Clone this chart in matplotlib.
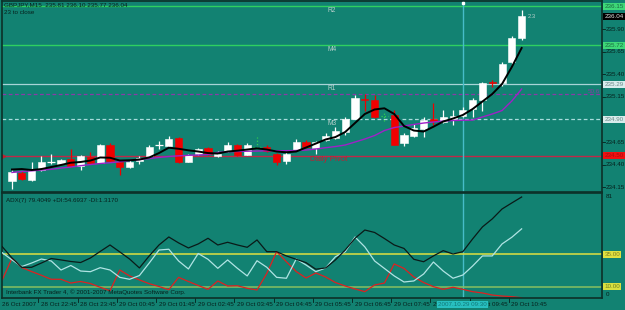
import numpy as np
import matplotlib
matplotlib.use('Agg')
import matplotlib.pyplot as plt
import matplotlib.transforms as mtrans

plt.rcParams['font.family'] = ['Liberation Sans', 'DejaVu Sans']

# GBPJPY M15 bars
opens = [234.22, 234.31, 234.23, 234.34, 234.43, 234.41, 234.46, 234.38, 234.48, 234.42,
         234.62, 234.43, 234.37, 234.44, 234.50, 234.62, 234.61, 234.69, 234.43, 234.52,
         234.58, 234.50, 234.55, 234.62, 234.51, 234.60, 234.60, 234.52, 234.44, 234.56,
         234.65, 234.58, 234.67, 234.69, 234.76, 234.91, 235.13, 235.11, 234.94, 234.95,
         234.64, 234.72, 234.79, 234.90, 234.87, 234.90, 234.94, 235.01, 235.11, 235.31,
         235.30, 235.53, 235.80]
highs = [234.34, 234.33, 234.43, 234.50, 234.52, 234.46, 234.57, 234.51, 234.54, 234.63,
         234.64, 234.44, 234.45, 234.49, 234.62, 234.66, 234.72, 234.71, 234.52, 234.58,
         234.59, 234.55, 234.65, 234.63, 234.64, 234.71, 234.62, 234.53, 234.54, 234.68,
         234.67, 234.66, 234.75, 234.82, 234.93, 235.17, 235.18, 235.17, 234.98, 235.00,
         234.75, 234.85, 234.93, 235.08, 235.00, 235.00, 235.04, 235.14, 235.31, 235.34,
         235.53, 235.82, 236.11]
lows = [234.13, 234.23, 234.22, 234.33, 234.41, 234.41, 234.37, 234.34, 234.41, 234.42,
        234.43, 234.29, 234.36, 234.41, 234.49, 234.57, 234.60, 234.42, 234.43, 234.51,
        234.51, 234.48, 234.54, 234.49, 234.51, 234.58, 234.54, 234.40, 234.41, 234.56,
        234.58, 234.52, 234.66, 234.68, 234.73, 234.90, 234.99, 234.92, 234.88, 234.62,
        234.61, 234.71, 234.70, 234.84, 234.86, 234.84, 234.93, 234.93, 234.99, 235.26,
        235.27, 235.51, 235.78]
closes = [234.32, 234.24, 234.34, 234.43, 234.43, 234.45, 234.38, 234.49, 234.42, 234.62,
          234.44, 234.37, 234.43, 234.47, 234.60, 234.62, 234.68, 234.43, 234.51, 234.57,
          234.52, 234.52, 234.62, 234.51, 234.62, 234.60, 234.55, 234.43, 234.52, 234.65,
          234.59, 234.65, 234.72, 234.77, 234.91, 235.14, 235.11, 234.93, 234.94, 234.62,
          234.73, 234.80, 234.89, 234.88, 234.93, 234.94, 235.00, 235.12, 235.30, 235.30,
          235.51, 235.80, 236.04]
green_doji = [25, 38]

ma_fast = [234.346, 234.351, 234.340, 234.351, 234.373, 234.396, 234.421, 234.429, 234.445, 234.479,
           234.476, 234.445, 234.448, 234.456, 234.479, 234.528, 234.587, 234.575, 234.558, 234.545,
           234.528, 234.523, 234.545, 234.554, 234.567, 234.580, 234.567, 234.545, 234.536, 234.545,
           234.589, 234.633, 234.678, 234.705, 234.761, 234.860, 234.960, 235.010, 235.023, 234.960,
           234.827, 234.777, 234.766, 234.819, 234.877, 234.910, 234.949, 235.015, 235.098, 235.181,
           235.292, 235.480, 235.690]
ma_slow = [234.313, 234.324, 234.331, 234.340, 234.348, 234.362, 234.373, 234.388, 234.401, 234.412,
           234.421, 234.431, 234.445, 234.456, 234.467, 234.479, 234.490, 234.497, 234.503, 234.506,
           234.512, 234.534, 234.542, 234.545, 234.548, 234.550, 234.553, 234.554, 234.554, 234.556,
           234.561, 234.573, 234.587, 234.600, 234.617, 234.650, 234.683, 234.722, 234.777, 234.810,
           234.827, 234.844, 234.860, 234.871, 234.882, 234.888, 234.891, 234.893, 234.927, 234.960,
           234.998, 235.104, 235.236]

# ADX(7) panel, first value belongs to the last Friday bar
adx = [40.9, 32.1, 24.9, 24.9, 28.2, 31.7, 30.6, 29.4, 28.6, 32.1, 37.2, 42.2, 36.8, 31.3,
       24.4, 33.7, 42.2, 48.4, 43.8, 39.9, 43.0, 47.4, 42.2, 44.3, 42.2, 40.4, 46.1, 37.0,
       37.0, 33.7, 31.1, 28.5, 23.4, 24.4, 30.6, 38.3, 47.4, 53.8, 51.9, 47.2, 42.2, 39.5,
       31.1, 29.2, 33.7, 37.8, 35.2, 37.0, 46.9, 56.2, 62.4, 70.1, 74.8, 79.4]
plus_di = [36.2, 30.6, 25.5, 28.2, 31.3, 29.8, 22.8, 26.3, 22.0, 21.5, 24.6, 22.8, 17.1, 15.6,
           18.5, 28.2, 38.3, 38.9, 29.8, 23.6, 35.6, 31.1, 24.1, 30.6, 24.1, 18.2, 30.0, 24.9,
           17.1, 16.4, 31.3, 26.7, 21.5, 24.4, 33.1, 37.0, 48.4, 40.7, 29.8, 24.0, 18.2, 13.5,
           14.3, 19.7, 29.0, 22.0, 16.4, 18.9, 25.9, 33.7, 33.7, 43.0, 48.2, 54.7]
minus_di = [15.1, 31.9, 24.7, 21.6, 18.7, 15.6, 15.6, 12.7, 13.9, 12.3, 9.4, 6.7, 22.8, 18.2,
            15.1, 12.2, 10.0, 7.5, 17.1, 13.9, 10.8, 7.8, 14.3, 10.4, 10.6, 8.6, 7.3, 20.2,
            37.0, 29.2, 21.6, 16.6, 20.5, 17.4, 13.1, 10.4, 8.1, 6.0, 11.2, 12.7, 27.5, 24.0,
            17.4, 13.1, 9.9, 7.8, 9.4, 7.8, 6.0, 5.0, 3.4, 2.6, 2.1, 1.3]

# pivot levels
r2, m4, r1, fib, m3, pivot = 236.15, 235.72, 235.29, 235.18, 234.90, 234.50
price_ticks = [234.15, 234.40, 234.65, 234.90, 235.15, 235.40, 235.65, 235.90]
time_labels = ['26 Oct 2007', '28 Oct 22:45', '28 Oct 23:45', '29 Oct 00:45', '29 Oct 01:45',
               '29 Oct 02:45', '29 Oct 03:45', '29 Oct 04:45', '29 Oct 05:45', '29 Oct 06:45',
               '29 Oct 07:45', '29 Oct 08:45', '29 Oct 09:45', '29 Oct 10:45']
time_bars = [-1, 3, 7, 11, 15, 19, 23, 27, 31, 35, 39, 43, 47, 51]
cursor_bar = 46

BG = '#128272'
TXT = '#06201c'
FS = 4.5

fig = plt.figure(figsize=(6.25, 3.1), dpi=100, facecolor=BG)
ax = fig.add_axes([2/625, 1 - 192/310, 600/625, 191/310], facecolor=BG)
ax2 = fig.add_axes([2/625, 1 - 298/310, 600/625, 105/310], facecolor=BG)

for a in (ax, ax2):
    a.set_xlim(-1.02, 60.2)
    for s in a.spines.values():
        s.set_color('#0c3028')
        s.set_linewidth(1.2)
    a.set_xticks([])
    a.set_yticks([])

ax.set_ylim(234.097, 236.21)
ax2.set_ylim(1.09, 82.5)

bars = np.arange(len(opens))
ind_bars = np.arange(-1, len(opens))

# levels
ax.axhline(r2, color='#2ed060', lw=1, zorder=1)
ax.axhline(m4, color='#2ed060', lw=1, zorder=1)
ax.axhline(r1, color='#a8d4d8', lw=0.9, zorder=1)
ax.axhline(fib, color='#8a3aa8', lw=0.9, ls=(0, (3, 2)), zorder=1)
ax.axhline(m3, color='#a8dcdc', lw=0.9, ls=(0, (3, 2)), zorder=1)
ax.axhline(pivot, color='#c02848', lw=1, zorder=1)

lvl_kw = dict(fontsize=FS + 0.3, color='#b8d0cc', ha='left', va='top')
ax.text(32.2, r2 - 0.01, 'R2', **lvl_kw)
ax.text(32.2, m4 - 0.01, 'M4', **lvl_kw)
ax.text(32.2, r1 - 0.01, 'R1', **lvl_kw)
ax.text(32.2, m3 - 0.01, 'M3', **lvl_kw)
ax.text(30.4, pivot - 0.01, 'Daily Pivot', fontsize=FS + 1.2, color='#c02030',
        ha='left', va='top')
ax.text(58.7, fib + 0.005, '50.6', fontsize=FS, color='#8a3aa8', ha='left', va='bottom')
ax.text(52.6, 236.04, '2.3', fontsize=FS - 0.3, color='#b8d0cc', ha='left', va='center')
ax.plot([-0.95], [pivot], marker='>', color='#c02030', ms=3)

# candles
for i in bars:
    o, h, l, c = opens[i], highs[i], lows[i], closes[i]
    if c > o:
        col = 'white'
    elif c < o:
        col = '#f00000'
    else:
        col = '#30d050' if i in green_doji else 'white'
    ls = ':' if i in green_doji else '-'
    ax.vlines(i, l, h, color=col, lw=0.9, ls=ls, zorder=2)
    if c != o:
        ax.bar(i, abs(c - o), bottom=min(o, c), width=0.72, color=col,
               edgecolor=col, lw=0.4, zorder=3)
    else:
        ax.hlines(o, i - 0.4, i + 0.4, color=col, lw=0.9, ls=ls, zorder=3)

ax.plot(bars, ma_slow, color='#a020c8', lw=1, zorder=4)
ax.plot(bars, ma_fast, color='black', lw=1.4, zorder=5)

# crosshair
ax.axvline(cursor_bar, color='#46bcc8', lw=1, zorder=1)
ax2.axvline(cursor_bar, color='#46bcc8', lw=1, zorder=1)
ax.plot([cursor_bar], [236.19], marker='s', color='white', ms=2, zorder=6, clip_on=False)

# right price scale
rt = mtrans.blended_transform_factory(ax.transAxes, ax.transData)
for p in price_ticks:
    ax.plot([1.0, 1.005], [p, p], color=TXT, lw=0.6, transform=rt, clip_on=False)
    ax.text(1.006, p, '%.2f' % p, fontsize=FS, color=TXT, transform=rt,
            ha='left', va='center')


def box(a, tr, y, s, fc, tc):
    a.text(1.004, y, s, fontsize=FS, color=tc, transform=tr, ha='left', va='center',
           bbox=dict(facecolor=fc, edgecolor='none', pad=0.7), zorder=10)


box(ax, rt, r2, '236.15', '#3ed878', '#1a6a40')
box(ax, rt, 236.04, '236.04', '#000000', '#e0e0e0')
box(ax, rt, m4, '235.72', '#3ed878', '#1a6a40')
box(ax, rt, r1, '235.29', '#d8ecec', '#6a8888')
box(ax, rt, m3, '234.90', '#d8ecec', '#6a8888')
box(ax, rt, pivot, '234.50', '#f01010', '#a01010')

ax.text(0.004, 0.995, 'GBPJPY,M15  235.81 236.10 235.77 236.04', fontsize=FS,
        color=TXT, transform=ax.transAxes, ha='left', va='top')
ax.text(0.004, 0.955, '23 to close', fontsize=FS, color=TXT,
        transform=ax.transAxes, ha='left', va='top')

# ADX panel
ax2.axhline(35, color='#e0e040', lw=1.1, zorder=1)
ax2.axhline(10, color='#88c060', lw=1.1, zorder=1)
ax2.plot(ind_bars, minus_di, color='#e02020', lw=0.9, zorder=2)
ax2.plot(ind_bars, plus_di, color='#b0e4e4', lw=0.9, zorder=3)
ax2.plot(ind_bars, adx, color='#0a1a18', lw=0.9, zorder=4)

rt2 = mtrans.blended_transform_factory(ax2.transAxes, ax2.transData)
ax2.text(1.006, 79.5, '81', fontsize=FS, color=TXT, transform=rt2, ha='left', va='center')
ax2.text(1.006, 3.5, '0', fontsize=FS, color=TXT, transform=rt2, ha='left', va='center')
box(ax2, rt2, 35, '35.00', '#e0e040', '#808020')
box(ax2, rt2, 10, '10.00', '#d8e040', '#708020')

ax2.text(0.006, 0.955, 'ADX(7) 79.4049 +DI:54.6937 -DI:1.3170', fontsize=FS,
         color=TXT, transform=ax2.transAxes, ha='left', va='top')
ax2.text(0.006, 0.03, 'Interbank FX Trader 4, \u00a9 2001-2007 MetaQuotes Software Corp.',
         fontsize=FS, color=TXT, transform=ax2.transAxes, ha='left', va='bottom')

# time axis
bt = mtrans.blended_transform_factory(ax2.transData, ax2.transAxes)
for b, s in zip(time_bars, time_labels):
    ax2.plot([b - 0.3, b - 0.3], [0, -0.04], color=TXT, lw=0.6, transform=bt, clip_on=False)
    ax2.text(b - 0.05, -0.035, s, fontsize=FS, color=TXT, transform=bt,
             ha='left', va='top')
ax2.text(cursor_bar, -0.035, '2007.10.29 09:30', fontsize=FS, color='#107878',
         transform=bt, ha='center', va='top', zorder=10,
         bbox=dict(facecolor='#28c0c0', edgecolor='none', pad=0.7))

fig.savefig('out.png', dpi=100, facecolor=BG)
